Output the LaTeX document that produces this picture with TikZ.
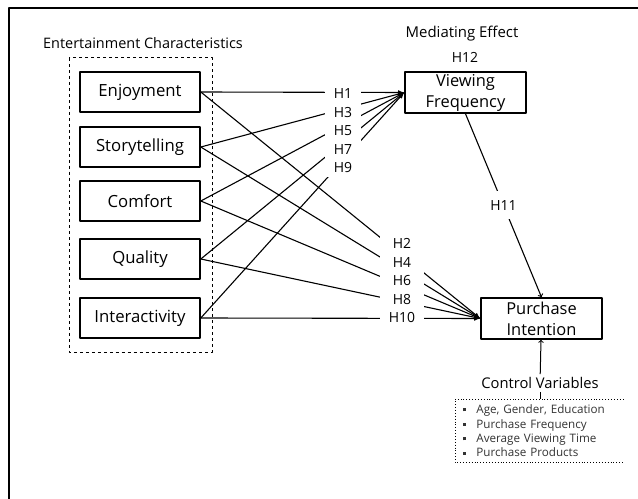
\documentclass[tikz,border=0pt]{standalone}
\usepackage{fontspec}
\setmainfont{Open Sans}
\usetikzlibrary{arrows}
\tikzset{
  factor/.style={draw=black,rectangle,line width=1.6bp,minimum width=120bp,minimum height=40bp,inner sep=0pt,font=\fontsize{16.8}{20}\selectfont},
  outcome/.style={factor,minimum width=121bp,minimum height=41bp,align=center,font=\fontsize{16.5}{21}\selectfont},
  hlab/.style={fill=white,inner sep=0pt,font=\fontsize{14}{15}\selectfont},
  link/.style={line width=1.1bp,-latex},
}
\newcommand{\sqbul}{\rule[0.35ex]{3.2bp}{3.2bp}\hspace{10bp}}
\begin{document}
\begin{tikzpicture}[x=1bp,y=-1bp,>=latex,line join=bevel]
\useasboundingbox (0,0) rectangle (638,499);
%%
\draw [line width=2bp] (9,499) -- (9,8) -- (638,8);
\node (ent_title) at (143,43) [font=\fontsize{14.5}{16}\selectfont] {Entertainment Characteristics};
\draw [dashed,line width=1bp] (69,58) rectangle (212,352);
  \node (enjoy) at (140,92) [factor] {Enjoyment};
  \node (story) at (140,147) [factor] {Storytelling};
  \node (comfort) at (140,201) [factor] {Comfort};
  \node (quality) at (140,259) [factor] {Quality};
  \node (inter) at (140,318) [factor] {Interactivity};
  \node (med_title) at (462,34) [font=\fontsize{15}{16}\selectfont] {Mediating Effect};
  \node (h12) at (465,57) [font=\fontsize{14}{15}\selectfont] {H12};
  \node (vf) at (465.5,92.5) [outcome] {Viewing\\Frequency};
  \node (pi) at (541.5,318.5) [outcome] {Purchase\\Intention};
  \node (cv) at (540,383) [font=\fontsize{14.8}{17}\selectfont,inner sep=3bp] {Control Variables};
  \node (cvlist) at (455,399) [anchor=north west,text width=152bp,inner xsep=8bp,inner ysep=5.5bp,align=left,text=black!80,font=\fontsize{11.7}{14.5}\selectfont]
    {\sqbul Age, Gender, Education\\\sqbul Purchase Frequency\\\sqbul Average Viewing Time\\\sqbul Purchase Products};
  \draw [dotted,line width=0.9bp] (cvlist.north east) -- (cvlist.north west) -- (cvlist.south west) -- (cvlist.south east);
%
  \draw [link] (enjoy.east) -- (vf.west);
  \draw [link] (story.east) -- (vf.west);
  \draw [link] (comfort.east) -- (vf.west);
  \draw [link] (quality.east) -- (vf.west);
  \draw [link] (inter.east) -- (vf.west);
  \draw [link] (enjoy.east) -- (pi.west);
  \draw [link] (story.east) -- (pi.west);
  \draw [link] (comfort.east) -- (pi.west);
  \draw [link] (quality.east) -- (pi.west);
  \draw [link] (inter.east) -- (pi.west);
  \draw [line width=1.1bp,-to] (vf.south) -- node [hlab,minimum width=26bp,minimum height=28bp] (h11) {H11} (pi.north);
  \draw [line width=1bp,-to] (cv) -- (pi);
  \draw [line width=0.8bp] (cv.south) -- (cv.south |- cvlist.north);
%
  \node (h1) at (343,94) [hlab,minimum width=36bp,minimum height=18.5bp] {H1};
  \node (h3) at (343,112.5) [hlab,minimum width=36bp,minimum height=18.5bp] {H3};
  \node (h5) at (343,131) [hlab,minimum width=36bp,minimum height=18.5bp] {H5};
  \node (h7) at (343,149.5) [hlab,minimum width=36bp,minimum height=18.5bp] {H7};
  \node (h9) at (343,168) [hlab,minimum width=36bp,minimum height=19bp] {H9};
  \node (h2) at (402,243) [hlab,minimum width=44bp,minimum height=19bp] {H2};
  \node (h4) at (402,262) [hlab,minimum width=44bp,minimum height=19bp] {H4};
  \node (h6) at (402,281) [hlab,minimum width=44bp,minimum height=19bp] {H6};
  \node (h8) at (402,299.5) [hlab,minimum width=44bp,minimum height=19bp] {H8};
  \node (h10) at (402,318) [hlab,minimum width=44bp,minimum height=19bp] {H10};
%
\end{tikzpicture}
\end{document}
